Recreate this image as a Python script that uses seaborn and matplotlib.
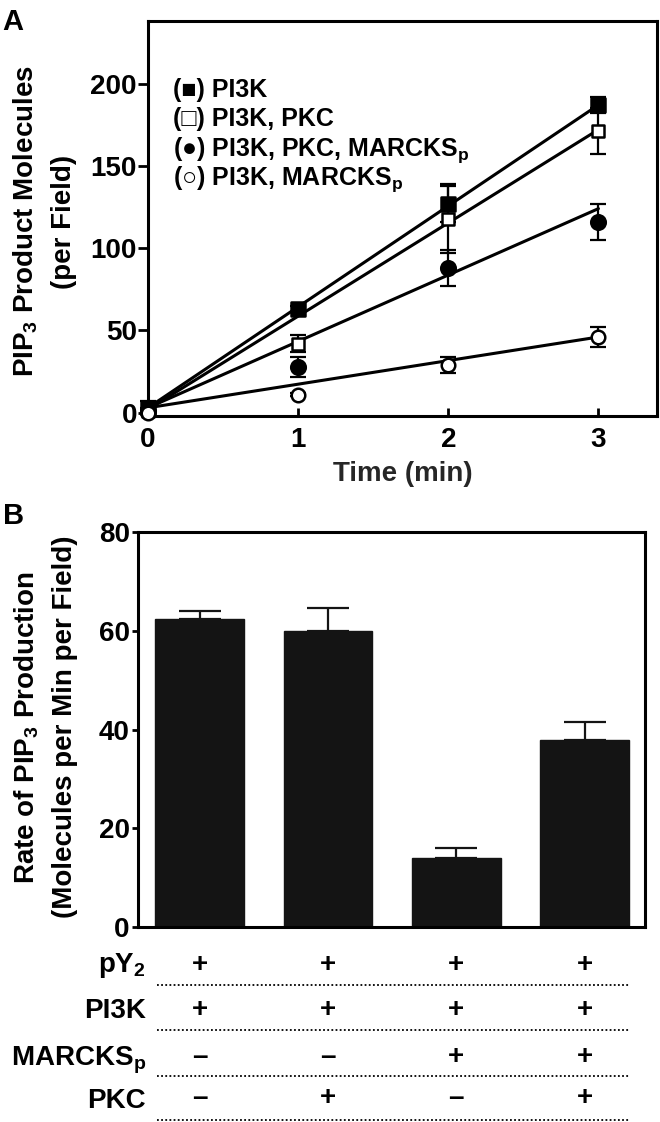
import numpy as np
import pandas as pd
import matplotlib
matplotlib.use("Agg")
import matplotlib.pyplot as plt
import matplotlib.transforms as mtransforms
from matplotlib.lines import Line2D
import seaborn as sns

# ---------------- Panel A data ----------------
time_min = [0, 1, 2, 3]
series_labels = ["(■) PI3K", "(□) PI3K, PKC",
                 "(●) PI3K, PKC, MARCKS$_\\mathrm{p}$",
                 "(○) PI3K, MARCKS$_\\mathrm{p}$"]
pi3k = [3, 63, 127, 187]
pi3k_err = [4, 2, 11, 5]
pi3k_pkc = [1, 42, 118, 171]
pi3k_pkc_err = [2, 5, 21, 14]
pi3k_pkc_marcks = [1, 28, 88, 116]
pi3k_pkc_marcks_err = [1, 6, 11, 11]
pi3k_marcks = [0, 11, 29, 46]
pi3k_marcks_err = [1, 1, 5, 6]

fit_time = [0, 3]
fit_pi3k = [3, 187]
fit_pi3k_pkc = [2, 172]
fit_pi3k_pkc_marcks = [3, 124]
fit_pi3k_marcks = [3, 46]

x_ticks_a = [0, 1, 2, 3]
y_ticks_a = [0, 50, 100, 150, 200]

# ---------------- Panel B data ----------------
conditions = ["c1", "c2", "c3", "c4"]
rates = [62.3, 59.9, 14.0, 37.9]
rate_err = [1.7, 4.7, 2.0, 3.7]
y_ticks_b = [0, 20, 40, 60, 80]
table_rows = ["pY$_\\mathrm{2}$", "PI3K", "MARCKS$_\\mathrm{p}$", "PKC"]
table_signs = [["+", "+", "+", "+"],
               ["+", "+", "+", "+"],
               ["–", "–", "+", "+"],
               ["–", "+", "–", "+"]]

# ---------------- Style ----------------
sns.set_theme(style="ticks")
plt.rcParams.update({
    "font.family": ["Liberation Sans", "DejaVu Sans"],
    "font.weight": "bold",
    "mathtext.fontset": "custom",
    "mathtext.rm": "Liberation Sans:bold",
    "mathtext.it": "Liberation Sans:bold",
    "mathtext.bf": "Liberation Sans:bold",
    "axes.edgecolor": "black",
    "axes.linewidth": 2.2,
    "text.color": "black",
    "xtick.color": "black",
    "ytick.color": "black",
})

W, H = 660, 1122
fig = plt.figure(figsize=(W / 100, H / 100), dpi=100)
fig.patch.set_facecolor("white")


def fx(px):
    return px / W


def fy(py):
    return 1 - py / H


axA = fig.add_axes([fx(148), fy(416), (657 - 148) / W, (416 - 21) / H])
axB = fig.add_axes([fx(138), fy(927), (645 - 138) / W, (927 - 532) / H])

# ---------------- Panel A ----------------
series = [
    (pi3k, pi3k_err, fit_pi3k, "s", "black", 100),
    (pi3k_pkc, pi3k_pkc_err, fit_pi3k_pkc, "s", "white", 80),
    (pi3k_pkc_marcks, pi3k_pkc_marcks_err, fit_pi3k_pkc_marcks, "o", "black", 110),
    (pi3k_marcks, pi3k_marcks_err, fit_pi3k_marcks, "o", "white", 95),
]
for vals, errs, fit, mk, fc, sz in series:
    sns.lineplot(x=fit_time, y=fit, ax=axA, color="black", lw=2.2,
                 zorder=2, legend=False)
    axA.errorbar(time_min, vals, yerr=errs, fmt="none", ecolor="black",
                 elinewidth=1.6, capsize=5.5, capthick=1.6, zorder=3,
                 clip_on=False)
    sns.scatterplot(x=time_min, y=vals, ax=axA, marker=mk, s=sz,
                    facecolor=fc, edgecolor="black", linewidth=1.8,
                    zorder=4, clip_on=False, legend=False)

axA.set_xlim(0, 3.39)
axA.set_ylim(-2, 238)
axA.set_xticks(x_ticks_a)
axA.set_yticks(y_ticks_a)
axA.tick_params(axis="x", direction="in", length=6, width=2, pad=8,
                labelsize=20)
axA.tick_params(axis="y", direction="out", length=7, width=2, pad=1,
                labelsize=20)
for lab in axA.get_xticklabels() + axA.get_yticklabels():
    lab.set_fontweight("bold")
axA.set_xlabel("Time (min)", fontsize=20, fontweight="bold", labelpad=6)
axA.set_ylabel("")
for sp in axA.spines.values():
    sp.set_visible(True)
    sp.set_linewidth(2.2)

leg_base = [97, 126, 156, 185]
for lab, yb in zip(series_labels, leg_base):
    fig.text(fx(173), fy(yb), lab, ha="left", va="baseline", fontsize=18,
             fontweight="bold")

fig.text(fx(26), fy(221), "PIP$_\\mathrm{3}$ Product Molecules", rotation=90,
         ha="center", va="center", fontsize=20, fontweight="bold")
fig.text(fx(64), fy(222), "(per Field)", rotation=90,
         ha="center", va="center", fontsize=20, fontweight="bold")
fig.text(fx(2), fy(8), "A", ha="left", va="top", fontsize=21,
         fontweight="bold")

# ---------------- Panel B ----------------
dfB = pd.DataFrame({"cond": conditions, "rate": rates})
sns.barplot(data=dfB, x="cond", y="rate", ax=axB, color="#141414",
            saturation=1, width=0.69, errorbar=None, edgecolor="#141414",
            zorder=2)
xpos = np.arange(len(conditions))
axB.errorbar(xpos, rates, yerr=[np.zeros(len(rates)), rate_err], fmt="none",
             ecolor="#141414", elinewidth=1.6, capsize=15, capthick=1.6,
             zorder=3)
axB.set_xlim(-0.48, 3.47)
axB.set_ylim(0, 80)
axB.set_yticks(y_ticks_b)
axB.tick_params(axis="y", direction="out", length=4, width=2, pad=2,
                labelsize=20)
axB.tick_params(axis="x", bottom=False, labelbottom=False)
for lab in axB.get_yticklabels():
    lab.set_fontweight("bold")
axB.set_xlabel("")
axB.set_ylabel("")
for sp in axB.spines.values():
    sp.set_visible(True)
    sp.set_linewidth(2.2)

fig.text(fx(27), fy(728), "Rate of PIP$_\\mathrm{3}$ Production", rotation=90,
         ha="center", va="center", fontsize=20, fontweight="bold")
fig.text(fx(65), fy(727), "(Molecules per Min per Field)", rotation=90,
         ha="center", va="center", fontsize=20, fontweight="bold")
fig.text(fx(3), fy(502), "B", ha="left", va="top", fontsize=21,
         fontweight="bold")

# table under panel B
trans = mtransforms.blended_transform_factory(axB.transData, fig.transFigure)
label_base = [972, 1018, 1065, 1108]
sign_center = [965, 1010, 1057, 1098]
dot_lines = [985, 1030, 1076, 1120]
for r, lab in enumerate(table_rows):
    fig.text(fx(146), fy(label_base[r]), lab, ha="right", va="baseline",
             fontsize=20, fontweight="bold")
    for c, sgn in enumerate(table_signs[r]):
        axB.text(xpos[c], fy(sign_center[r]), sgn, transform=trans,
                 ha="center", va="center", fontsize=20, fontweight="bold",
                 clip_on=False)
    fig.add_artist(Line2D([fx(157), fx(630)], [fy(dot_lines[r])] * 2,
                          transform=fig.transFigure, color="black",
                          lw=1.3, ls=(0, (1, 1.3))))

fig.savefig("out.png", dpi=100, facecolor="white")
